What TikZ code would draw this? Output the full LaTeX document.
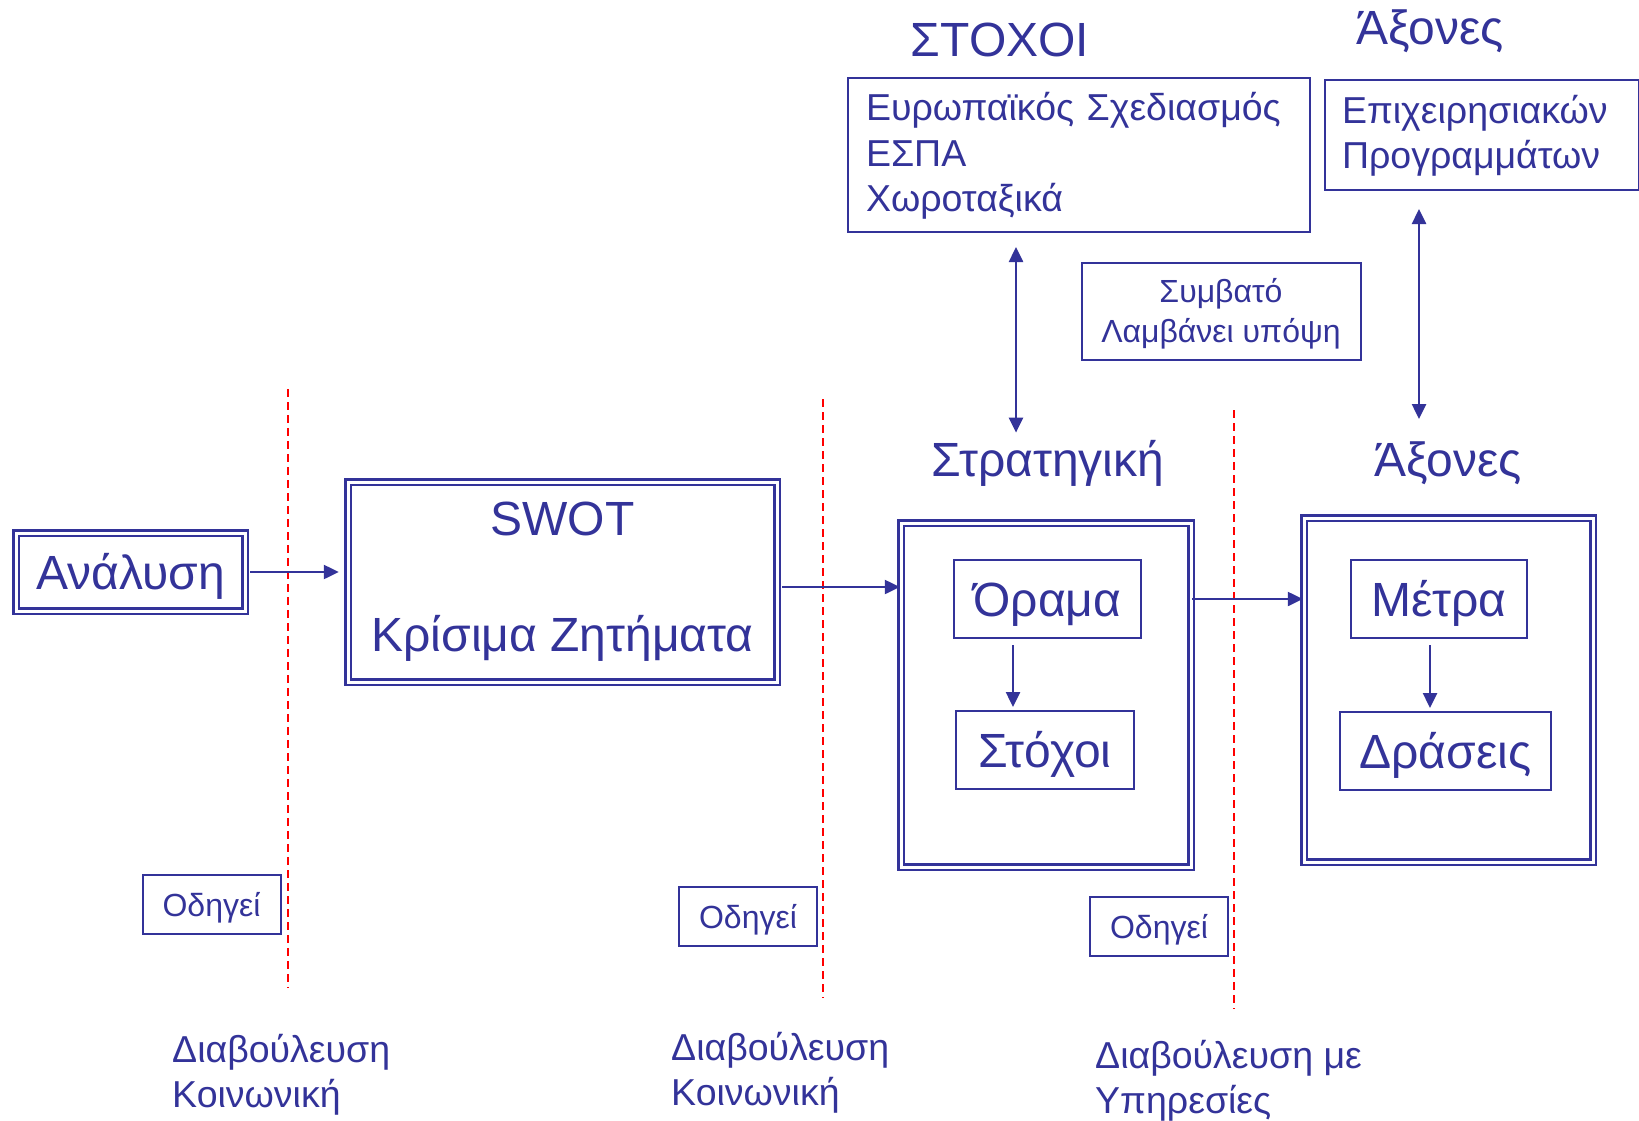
\documentclass[tikz,border=0pt]{standalone}
\usepackage{fontspec}
\setmainfont{Liberation Sans}
\usetikzlibrary{arrows.meta}
\definecolor{plan}{RGB}{51,51,153}

\begin{document}
\begin{tikzpicture}[x=1pt,y=-1pt,
  every node/.style={text=plan,font=\fontsize{48}{58}\selectfont},
  twobox/.style={draw=plan,line width=2.5pt,double=white,double distance=3pt,inner sep=0pt,align=center},
  onebox/.style={draw=plan,line width=2pt,inner sep=0pt,align=center},
  caps/.style={text height=35pt,text depth=0pt},
  flow/.style={draw=plan,line width=2.5pt,-{Triangle[length=15pt,width=14pt]}},
  both/.style={draw=plan,line width=2.5pt,{Triangle[length=15pt,width=14pt]}-{Triangle[length=15pt,width=14pt]}},
  cut/.style={draw=red,line width=1.5pt,dash pattern=on 8pt off 5pt}]
\useasboundingbox (0,0) rectangle (1639,1121);
% Draw the phase borders
\foreach \x/\a/\b in {288/389/988, 823/399/998, 1234/410/1009}
  \draw[cut] (\x,\a) -- (\x,\b);
% Draw main boxes
\node[twobox,caps,minimum width=229pt,minimum height=78pt] (analysis) at (130.5,572) {Ανάλυση};
\node[twobox,minimum width=429pt,minimum height=200pt,font=\fontsize{48}{116}\selectfont] (swot) at (562.5,582) {SWOT\\Κρίσιμα Ζητήματα};
\node[twobox,minimum width=290pt,minimum height=344pt] (strategy) at (1046,695) {};
\node[twobox,minimum width=289pt,minimum height=344pt] (axes) at (1448.5,690) {};
% Inner boxes
\node[onebox,caps,minimum width=187pt,minimum height=78pt] (vision) at (1047.5,599) {Όραμα};
\node[onebox,caps,minimum width=178pt,minimum height=78pt] (goals) at (1045,750) {Στόχοι};
\node[onebox,caps,minimum width=176pt,minimum height=78pt] (measures) at (1439,599) {Μέτρα};
\node[onebox,caps,minimum width=211pt,minimum height=78pt] (actions) at (1445.5,751) {Δράσεις};
% Titles
\node[anchor=base,inner sep=0pt] (stratlabel) at (1048,476) {Στρατηγική};
\node[anchor=base,inner sep=0pt] (axeslabel) at (1448,476) {Άξονες};
\node[anchor=base,inner sep=0pt] (goalstitle) at (1000,57) {ΣΤΟΧΟΙ};
\node[anchor=base,inner sep=0pt] (axestitle) at (1430,45) {Άξονες};
% Upper boxes
\node[onebox,anchor=north west,minimum height=154pt,text width=426pt,align=left,inner xsep=18pt,text height=26pt,text depth=94pt,font=\fontsize{37.5}{45.5}\selectfont] (europe) at (847,77) {Ευρωπαϊκός Σχεδιασμός\\ΕΣΠΑ\\Χωροταξικά};
\node[onebox,anchor=north west,minimum height=110pt,text width=280pt,align=left,inner xsep=17pt,text height=26pt,text depth=48pt,font=\fontsize{37.5}{45}\selectfont] (programs) at (1324,79) {Επιχειρησιακών\\Προγραμμάτων};
\node[onebox,minimum width=279pt,minimum height=97pt,text height=62pt,text depth=0pt,font=\fontsize{32}{40}\selectfont] (compatible) at (1221,311) {Συμβατό\\Λαμβάνει υπόψη};
% Lower boxes and texts
\node[onebox,minimum width=138pt,minimum height=59pt,text height=24pt,text depth=0pt,font=\fontsize{32}{37}\selectfont] (leads1) at (211.5,904) {Οδηγεί};
\node[onebox,minimum width=138pt,minimum height=59pt,text height=24pt,text depth=0pt,font=\fontsize{32}{37}\selectfont] (leads2) at (748,916) {Οδηγεί};
\node[onebox,minimum width=138pt,minimum height=59pt,text height=24pt,text depth=0pt,font=\fontsize{32}{37}\selectfont] (leads3) at (1159,926) {Οδηγεί};
\node[anchor=base west,inner sep=0pt,align=left,font=\fontsize{37.5}{45}\selectfont] (consult1) at (172,1107) {Διαβούλευση\\Κοινωνική};
\node[anchor=base west,inner sep=0pt,align=left,font=\fontsize{37.5}{45}\selectfont] (consult2) at (671,1105) {Διαβούλευση\\Κοινωνική};
\node[anchor=base west,inner sep=0pt,align=left,font=\fontsize{37.5}{45}\selectfont] (consult3) at (1095,1113) {Διαβούλευση με\\Υπηρεσίες};
% Draw the flow arrows
\draw[flow,shorten <=4pt,shorten >=8pt] (analysis.east) -- (analysis.east -| swot.west);
\draw[flow,shorten <=4pt] ([yshift=-5pt]swot.east) -- ([yshift=-5pt]swot.east -| strategy.west);
\draw[flow] (vision.east -| strategy.east) -- (vision.east -| axes.west);
\draw[flow,shorten <=6pt,shorten >=3pt] ([xshift=-34.5pt]vision.south) -- ([xshift=-32pt]goals.north);
\draw[flow,shorten <=6pt,shorten >=3pt] ([xshift=-9pt]measures.south) -- ([xshift=-15.5pt]actions.north);
% Draw the links to the upper boxes
\coordinate (link1) at (1016,0);
\coordinate (link2) at (1419,0);
\draw[both,shorten <=14pt,shorten >=7pt] (link1 |- europe.south) -- (link1 |- stratlabel.north);
\draw[both,shorten <=18pt,shorten >=22pt] (link2 |- programs.south) -- (link2 |- axeslabel.north);
\end{tikzpicture}
\end{document}
